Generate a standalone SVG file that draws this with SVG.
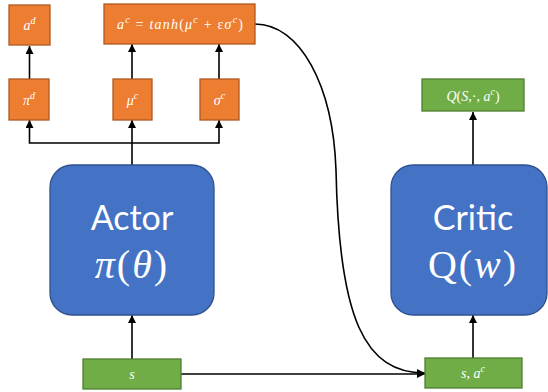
<svg xmlns="http://www.w3.org/2000/svg" width="548" height="392" viewBox="0 0 548 392">
<defs>
<marker id="arr" viewBox="0 0 10 10" refX="10" refY="5" markerWidth="8" markerHeight="8" markerUnits="userSpaceOnUse" orient="auto">
<path d="M0,0 L10,5 L0,10 z" fill="#000"/>
</marker>
<style>
.or{fill:#ED7D31;stroke:#AE5A21;stroke-width:1.3}
.gr{fill:#70AD47;stroke:#507E32;stroke-width:1.3}
.bl{fill:#4472C4;stroke:#2F528F;stroke-width:1.3}
.m{font-family:"Liberation Serif","DejaVu Serif",serif;font-style:italic;fill:#fff;font-size:14px;text-anchor:middle}
.up{font-style:normal}
.big{font-family:Lato,"Open Sans",sans-serif;fill:#fff;font-size:34px;text-anchor:middle}
.bm{font-family:"Liberation Serif","DejaVu Serif",serif;fill:#fff;font-size:40px;text-anchor:middle}
.c{fill:none;stroke:#000;stroke-width:1.6}
</style>
</defs>
<g id="connectors">
<line class="c" x1="29.5" y1="79" x2="29.5" y2="46" marker-end="url(#arr)"/>
<line class="c" x1="132" y1="79" x2="132" y2="44" marker-end="url(#arr)"/>
<line class="c" x1="219" y1="79" x2="219" y2="44" marker-end="url(#arr)"/>
<line class="c" x1="132" y1="165" x2="132" y2="120" marker-end="url(#arr)"/>
<polyline class="c" points="132,143 29.5,143 29.5,120" marker-end="url(#arr)"/>
<polyline class="c" points="132,143 219,143 219,120" marker-end="url(#arr)"/>
<line class="c" x1="132" y1="359" x2="132" y2="315" marker-end="url(#arr)"/>
<line class="c" x1="181" y1="374" x2="425" y2="374" marker-end="url(#arr)"/>
<path class="c" d="M255,24 C300,24 333,85 336,170 C339,320 365,373 425,373" marker-end="url(#arr)"/>
<line class="c" x1="473" y1="358" x2="473" y2="315" marker-end="url(#arr)"/>
<line class="c" x1="473" y1="165" x2="473" y2="112" marker-end="url(#arr)"/>
</g>
<g id="ad"><rect class="or" x="9" y="5" width="41" height="40"/><text class="m" x="29.5" y="30">a<tspan font-size="10" dy="-6">d</tspan></text></g>
<g id="ac"><rect class="or" x="104" y="4" width="151" height="40"/><text class="m" x="117" y="29" style="text-anchor:start" textLength="126" lengthAdjust="spacing">a<tspan font-size="10" dy="-6">c</tspan><tspan dy="6" class="up"> = </tspan>tanh<tspan class="up">(</tspan>μ<tspan font-size="10" dy="-6">c</tspan><tspan dy="6" class="up"> + ε</tspan>σ<tspan font-size="10" dy="-6">c</tspan><tspan dy="6" class="up">)</tspan></text></g>
<g id="pid"><rect class="or" x="9" y="79" width="40" height="41"/><text class="m" x="29" y="105">π<tspan font-size="10" dy="-6">d</tspan></text></g>
<g id="muc"><rect class="or" x="113" y="79" width="39" height="41"/><text class="m" x="132.5" y="105">μ<tspan font-size="10" dy="-6">c</tspan></text></g>
<g id="sigc"><rect class="or" x="200" y="79" width="39" height="41"/><text class="m" x="219.5" y="105">σ<tspan font-size="10" dy="-6">c</tspan></text></g>
<g id="actor"><rect class="bl" x="50" y="165" width="164" height="150" rx="22"/><text class="big" x="132" y="230">Actor</text><text class="bm" x="132" y="278" letter-spacing="2"><tspan font-style="italic">π</tspan>(<tspan font-style="italic">θ</tspan>)</text></g>
<g id="critic"><rect class="bl" x="391" y="165" width="156" height="150" rx="22"/><text class="big" x="473" y="230">Critic</text><text class="bm" x="473" y="278" letter-spacing="2">Q(<tspan font-style="italic">w</tspan>)</text></g>
<g id="q"><rect class="gr" x="422" y="79" width="102" height="32"/><text class="m" x="473" y="101">Q<tspan class="up">(</tspan>S<tspan class="up">,·, </tspan>a<tspan font-size="10" dy="-6">c</tspan><tspan dy="6" class="up">)</tspan></text></g>
<g id="s"><rect class="gr" x="83" y="359" width="98" height="30"/><text class="m" x="132" y="379">s</text></g>
<g id="sac"><rect class="gr" x="425" y="358" width="97" height="30"/><text class="m" x="473" y="378">s<tspan class="up">, </tspan>a<tspan font-size="10" dy="-6">c</tspan></text></g>
</svg>
